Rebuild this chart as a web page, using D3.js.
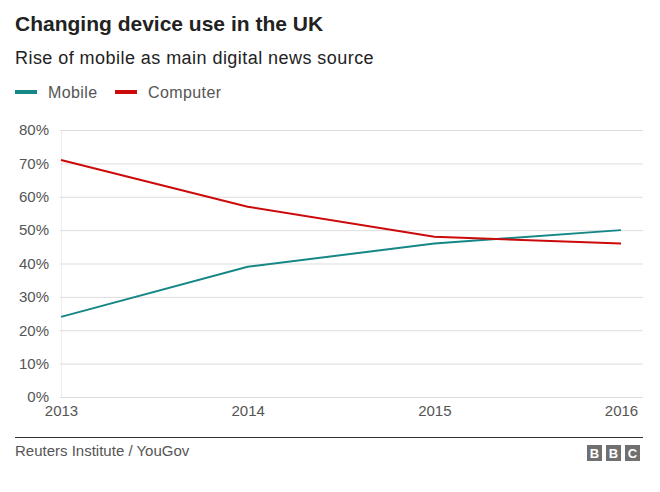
<!DOCTYPE html>
<html><head><meta charset="utf-8">
<script src="https://d3js.org/d3.v7.min.js"></script>
<style>body{margin:0;background:#fff}svg{display:block;font-family:"Liberation Sans",Arial,sans-serif}</style>
</head><body>
<script>
const years = [2013, 2014, 2015, 2016];
const mobile = [24, 39, 46, 50];
const computer = [71, 57, 48, 46];
const yTicks = [0, 10, 20, 30, 40, 50, 60, 70, 80];
const seriesNames = ["Mobile", "Computer"];
const colors = ["#158787", "#cc0a0a"];

const W = 660, H = 492;
const svg = d3.select("body").append("svg").attr("width", W).attr("height", H);

const x = d3.scaleLinear().domain([2013, 2016]).range([61, 621]);
const y = d3.scaleLinear().domain([0, 80]).range([397, 130]);

svg.append("text").attr("x", 15).attr("y", 31).attr("font-size", 21).attr("font-weight", "bold").attr("fill", "#222").text("Changing device use in the UK");
svg.append("text").attr("x", 15).attr("y", 64).attr("font-size", 18).attr("letter-spacing", 0.45).attr("fill", "#222").text("Rise of mobile as main digital news source");

// legend
const legX = [15, 115];
seriesNames.forEach((n, i) => {
  svg.append("line").attr("x1", legX[i]).attr("x2", legX[i] + 22).attr("y1", 92).attr("y2", 92).attr("stroke", colors[i]).attr("stroke-width", 4);
  svg.append("text").attr("x", legX[i] + 33).attr("y", 98).attr("font-size", 16).attr("letter-spacing", 0.4).attr("fill", "#555").text(n);
});

// grid
const yAxis = d3.axisLeft(y).tickValues(yTicks).tickFormat(d => d + "%").tickSize(-(643 - 61)).tickPadding(12);
const gy = svg.append("g").attr("transform", "translate(61,0)").call(yAxis);
gy.select(".domain").attr("stroke", "#eee");
gy.selectAll(".tick line").attr("stroke", "#ddd").attr("x1", -1);
gy.selectAll(".tick text").attr("font-size", 15).attr("fill", "#555").attr("font-family", "Liberation Sans, Arial, sans-serif");

const xAxis = d3.axisBottom(x).tickValues(years).tickFormat(d3.format("d")).tickSize(0).tickPadding(8);
const gx = svg.append("g").attr("transform", "translate(0,397)").call(xAxis);
gx.select(".domain").remove();
gx.selectAll(".tick text").attr("font-size", 15).attr("fill", "#555").attr("font-family", "Liberation Sans, Arial, sans-serif");

const line = d3.line().x((d, i) => x(years[i])).y(d => y(d));
[mobile, computer].forEach((s, i) => {
  svg.append("path").datum(s).attr("d", line).attr("fill", "none").attr("stroke", colors[i]).attr("stroke-width", 2);
});

// footer
svg.append("line").attr("x1", 15).attr("x2", 643).attr("y1", 437.5).attr("y2", 437.5).attr("stroke", "#333").attr("stroke-width", 1);
svg.append("text").attr("x", 15).attr("y", 456).attr("font-size", 15).attr("fill", "#555").text("Reuters Institute / YouGov");
["B", "B", "C"].forEach((c, i) => {
  const bx = 587 + i * 19;
  svg.append("rect").attr("x", bx).attr("y", 445).attr("width", 15).attr("height", 16).attr("fill", "#707070");
  svg.append("text").attr("x", bx + 7.5).attr("y", 458).attr("text-anchor", "middle").attr("font-size", 13).attr("font-weight", "bold").attr("fill", "#fff").text(c);
});
</script>
</body></html>
